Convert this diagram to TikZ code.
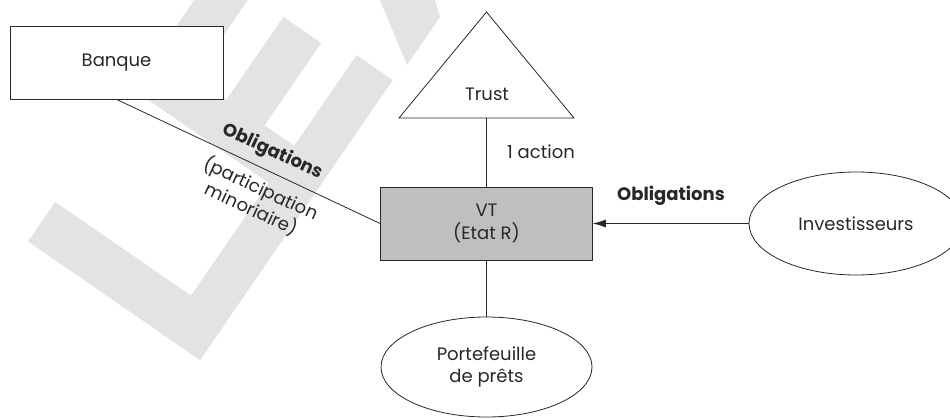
\documentclass[tikz,border=0pt]{standalone}
\usepackage{fontspec}
\setmainfont{Poppins}
\usetikzlibrary{arrows.meta,calc,shapes.geometric}
\definecolor{wm}{RGB}{227,227,227}
\definecolor{ink}{RGB}{40,40,40}
\definecolor{vtfill}{RGB}{191,191,191}
\newcommand{\fsz}{\fontsize{18}{22.5}\selectfont}
\begin{document}
\begin{tikzpicture}[x=1pt,y=-1pt,
  every node/.style={text=ink, font=\fsz},
  box/.style={draw=ink, line width=0.8pt, fill=white, minimum width=213pt, minimum height=73pt, inner sep=0pt, align=center},
  ell/.style={draw=ink, line width=0.8pt, fill=white, ellipse, inner sep=0pt, align=center},
  conn/.style={draw=ink, line width=0.8pt},
  lbl/.style={align=center, inner sep=0pt}]
\useasboundingbox (0,0) rectangle (950,420);
% watermark
\begin{scope}
\clip (0,0) rectangle (950,420);
\begin{scope}[shift={(200,360)}, x={(0.567pt,0.823pt)}, y={(-0.823pt,0.567pt)}]
 \fill[wm] (0,0) -- (48,0) -- (48,209) -- (0,209) -- cycle;
 \fill[wm] (0,0) -- (340,0) -- (340,44) -- (0,44) -- cycle;
 \fill[wm] (185,0) -- (230,0) -- (230,209) -- (185,209) -- cycle;
 \fill[wm] (185,80) -- (330,80) -- (330,126) -- (185,126) -- cycle;
 \fill[wm] (185,165) -- (340,165) -- (340,209) -- (185,209) -- cycle;
\end{scope}
\fill[wm] (380,0) -- (435,0) -- (440,17) -- (407,65) -- cycle;
\end{scope}
% nodes
\node[box] (banque) at (116.5,62.5) {Banque};
\node[box, fill=vtfill, minimum width=212pt] (vt) at (486.5,223.5) {VT\\(Etat R)};
\draw[conn, fill=white] (486.5,12) -- (574,118) -- (399,118) -- cycle;
\coordinate (trustbase) at (486.5,118);
\node (trust) at (487,94) {Trust};
\node (action) at (541,152) {1 action};
\node[ell, minimum width=214pt, minimum height=103pt] (inv) at (856,223.5) {Investisseurs};
\node[ell, minimum width=211pt, minimum height=100pt] (porte) at (486.5,367) {Portefeuille\\de prêts};
% connectors
\draw[conn] (trustbase) -- (vt.north);
\draw[conn] (vt.south) -- (porte.north);
\draw[conn, -{Latex[length=13pt,width=8pt]}] (inv.west) -- (vt.east);
\draw[conn] (banque.south) -- (vt.west);
\node[font=\fsz\bfseries] (oblig2) at (671,196) {Obligations};
\node[lbl, font=\fsz\bfseries, rotate=-24.9] (oblig1) at ($(banque.south)!0.562!(vt.west)!19pt!90:(vt.west)$) {Obligations};
\node[lbl, rotate=-24.9] (partic) at ($(banque.south)!0.58!(vt.west)!30pt!-90:(vt.west)$) {(participation\\minoriaire)};
\end{tikzpicture}
\end{document}
